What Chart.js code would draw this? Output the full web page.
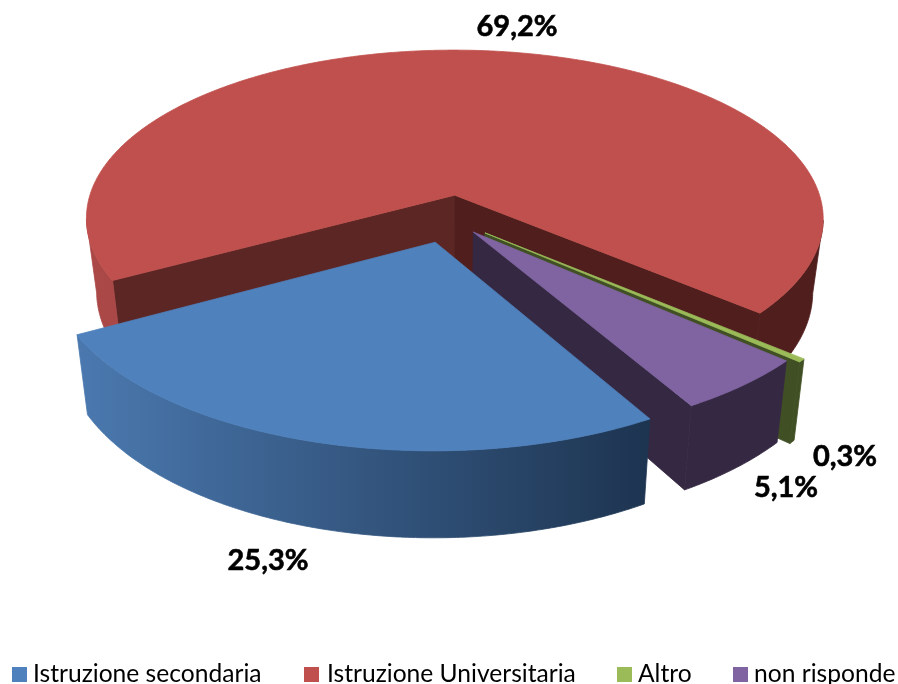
<!DOCTYPE html>
<html>
<head>
<meta charset="utf-8">
<style>html,body{margin:0;padding:0;background:#fff}canvas{display:block}</style>
<script src="https://cdn.jsdelivr.net/npm/chart.js@4"></script>
</head>
<body>
<canvas id="c" width="898" height="684"></canvas>
<script>
const categories = ['Istruzione secondaria', 'Istruzione Universitaria', 'Altro', 'non risponde'];
const values = [25.3, 69.2, 0.3, 5.1];
const topColors = ['#4f81bd', '#c0504d', '#9bbb59', '#8064a2'];
const rimColorsLeft = ['#4a78ae', '#ac4948', '#414f24', '#352842'];
const rimColorsRight = ['#1d3450', '#4f1e1d', '#414f24', '#352842'];
const startWallColors = ['#1d3450', '#5c2625', '#414f24', '#352842'];
const endWallColors = ['#1d3450', '#4f1e1d', '#414f24', '#352842'];
const explode = [0.14, 0.14, 0.125, 0.10];
const paintOrder = [1, 2, 3, 0];
const labelPositions = [[268, 561], [517, 27], [845, 457], [786, 488]];
const legendPositions = [[12, 33], [304, 327], [617, 638], [733, 754]];

// projection of the pie's ground plane on the page
const X0 = 449.5, A = 372, P = 140.8, Q = 218.6, C = 0.1416, H = 73, K = 0.972, STEP = Math.PI / 360;

function project(u, w, low) {
  const s = 1 / (1 - C * w);
  return { x: X0 + (low ? A * K : A) * u * s, y: (P * w + Q) * s + (low ? H * s : 0) };
}
function facesViewer(nu, nw, pu, pw) {
  return nu * (0 - pu) + nw * (1 / C - pw) > 0;
}
function fillPoly(ctx, pts, fill) {
  ctx.beginPath();
  pts.forEach((p, i) => i ? ctx.lineTo(p.x, p.y) : ctx.moveTo(p.x, p.y));
  ctx.closePath();
  ctx.fillStyle = fill;
  ctx.strokeStyle = fill;
  ctx.lineWidth = 0.8;
  ctx.fill();
  ctx.stroke();
}
function drawSlice(ctx, el, i) {
  const mid = (el.startAngle + el.endAngle) / 2;
  const cu = explode[i] * Math.cos(mid), cw = explode[i] * Math.sin(mid);
  const a0 = el.startAngle, a1 = el.endAngle;
  const radial = (ang, sign, color) => {
    const nu = sign * Math.sin(ang), nw = sign * Math.cos(ang);
    const ru = cu + Math.cos(ang), rw = cw + Math.sin(ang);
    if (!facesViewer(nu, nw, (cu + ru) / 2, (cw + rw) / 2)) return;
    fillPoly(ctx, [project(cu, cw), project(ru, rw), project(ru, rw, true), project(cu, cw, true)], color);
  };
  radial(a0, -1, startWallColors[i]);
  radial(a1, 1, endWallColors[i]);

  const grad = ctx.createLinearGradient(84, 0, 820, 0);
  grad.addColorStop(0, rimColorsLeft[i]);
  if (i === 1) { grad.addColorStop(0.1, '#a54644'); grad.addColorStop(0.6, rimColorsRight[i]); }
  if (i === 0) { grad.addColorStop(0.77, rimColorsRight[i]); }
  grad.addColorStop(1, rimColorsRight[i]);

  const n = Math.max(2, Math.ceil((a1 - a0) / STEP));
  let run = [];
  const flush = () => {
    if (run.length > 1) {
      const tops = run.map(t => project(cu + Math.cos(t), cw + Math.sin(t)));
      const lows = run.map(t => project(cu + Math.cos(t), cw + Math.sin(t), true)).reverse();
      fillPoly(ctx, tops.concat(lows), grad);
    }
    run = [];
  };
  for (let k = 0; k <= n; k++) {
    const t = a0 + (a1 - a0) * k / n;
    if (facesViewer(Math.cos(t), Math.sin(t), cu + Math.cos(t), cw + Math.sin(t))) run.push(t);
    else flush();
  }
  flush();

  const top = [project(cu, cw)];
  for (let k = 0; k <= n; k++) {
    const t = a0 + (a1 - a0) * k / n;
    top.push(project(cu + Math.cos(t), cw + Math.sin(t)));
  }
  fillPoly(ctx, top, topColors[i]);
}

const pie3d = {
  id: 'pie3d',
  beforeDatasetsDraw(chart) {
    const ctx = chart.ctx, arcs = chart.getDatasetMeta(0).data;
    ctx.save();
    paintOrder.forEach(i => drawSlice(ctx, arcs[i], i));
    ctx.fillStyle = '#000';
    ctx.strokeStyle = '#000';
    ctx.lineWidth = 0.6;
    ctx.font = 'bold 29px Lato';
    ctx.textAlign = 'center';
    ctx.textBaseline = 'middle';
    values.forEach((v, i) => {
      const t = v.toFixed(1).replace('.', ',') + '%';
      ctx.fillText(t, labelPositions[i][0], labelPositions[i][1]);
      ctx.strokeText(t, labelPositions[i][0], labelPositions[i][1]);
    });
    ctx.restore();
    return false;
  },
  afterDraw(chart) {
    const ctx = chart.ctx;
    const items = Chart.overrides.pie.plugins.legend.labels.generateLabels(chart);
    ctx.save();
    ctx.font = '24.6px Lato';
    ctx.textAlign = 'left';
    ctx.textBaseline = 'alphabetic';
    items.forEach((it, i) => {
      ctx.fillStyle = it.fillStyle;
      ctx.fillRect(legendPositions[i][0], 667, 15, 15);
      ctx.fillStyle = '#000';
      ctx.fillText(it.text, legendPositions[i][1], 682);
    });
    ctx.restore();
  }
};

new Chart(document.getElementById('c'), {
  type: 'pie',
  data: {
    labels: categories,
    datasets: [{ data: values, backgroundColor: topColors, borderWidth: 0 }]
  },
  options: {
    responsive: false,
    animation: false,
    rotation: 150,
    plugins: { legend: { display: false }, tooltip: { enabled: false } }
  },
  plugins: [pie3d]
});
</script>
</body>
</html>
